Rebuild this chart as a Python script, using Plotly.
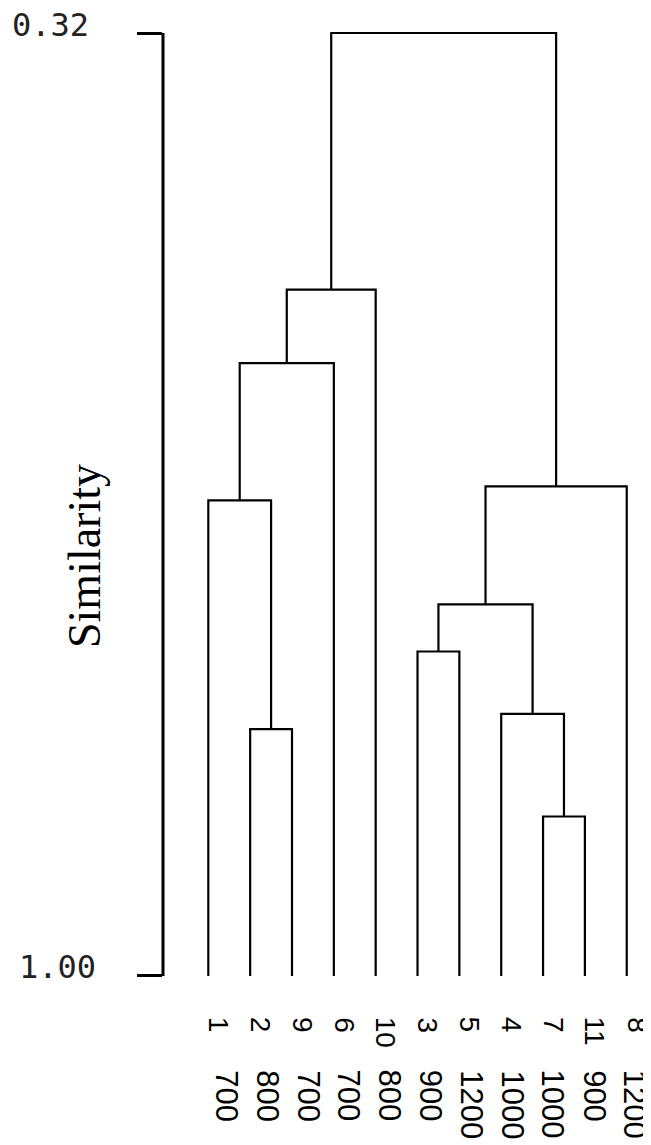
import plotly.graph_objects as go

# ---------------- data ----------------
leaf_order = [1, 2, 9, 6, 10, 3, 5, 4, 7, 11, 8]
leaf_param = [700, 800, 700, 700, 800, 900, 1200, 1000, 1000, 900, 1200]
leaf_sim = 1.00

merge_left = ["2", "1", "m1", "m2", "7", "4", "3", "m6", "m7", "m3"]
merge_right = ["9", "m0", "6", "10", "11", "m4", "5", "m5", "8", "m8"]
merge_sim = [0.822, 0.657, 0.558, 0.505, 0.885, 0.811, 0.766, 0.732, 0.647, 0.32]

y_ticks = [0.32, 1.00]
y_tick_text = ["0.32", "1.00"]
y_title = "Similarity"

# ---------------- build dendrogram links ----------------
pos = {str(l): (i, leaf_sim) for i, l in enumerate(leaf_order)}
xs, ys = [], []
for k, (a, b, h) in enumerate(zip(merge_left, merge_right, merge_sim)):
    xa, ha = pos[a]
    xb, hb = pos[b]
    xs += [xa, xa, xb, xb, None]
    ys += [ha, h, h, hb, None]
    pos[f"m{k}"] = ((xa + xb) / 2, h)

fig = go.Figure()
fig.add_trace(go.Scatter(x=xs, y=ys, mode="lines",
                         line=dict(color="black", width=2.2),
                         hoverinfo="skip", showlegend=False))

OFF = 8  # default page body margin
W, H = 651 - OFF, 1145 - OFF
ml, mr, mt, mb = 163 - OFF, 0, 29 - OFF, 165
PW = W - ml - mr
PH = H - mt - mb
pad = 0.0029

mono = dict(family="DejaVu Sans Mono", size=32, color="#222")
annotations = []
# y tick labels
annotations.append(dict(text=y_tick_text[0], xref="paper", yref="y",
                        x=(10 - 163) / PW, y=y_ticks[0], xanchor="left",
                        yanchor="middle", yshift=8, showarrow=False, font=mono))
annotations.append(dict(text=y_tick_text[1], xref="paper", yref="y",
                        x=(17 - 163) / PW, y=y_ticks[1], xanchor="left",
                        yanchor="middle", yshift=9, showarrow=False, font=mono))
# axis title
annotations.append(dict(text=y_title, xref="paper", yref="paper",
                        x=(84 - 163) / PW, y=1 - (556 - 29) / PH,
                        xanchor="center", yanchor="middle", textangle=-90,
                        showarrow=False,
                        font=dict(family="Liberation Serif", size=46, color="black")))
# leaf labels
for i, (lid, par) in enumerate(zip(leaf_order, leaf_param)):
    annotations.append(dict(text=str(lid), x=i, y=leaf_sim, xref="x", yref="y",
                            textangle=90, xanchor="center", yanchor="top",
                            xshift=10, yshift=-39, showarrow=False,
                            font=dict(family="Liberation Sans", size=28, color="black")))
    annotations.append(dict(text=str(par), x=i, y=leaf_sim, xref="x", yref="y",
                            textangle=90, xanchor="center", yanchor="top",
                            xshift=17.5 - 0.95 * i, yshift=-92, showarrow=False,
                            font=dict(family="Liberation Sans", size=31, color="black")))

fig.update_layout(
    width=W, height=H,
    margin=dict(l=ml, r=mr, t=mt, b=mb, autoexpand=False),
    paper_bgcolor="white", plot_bgcolor="white",
    xaxis=dict(visible=False, range=[-1.083, 10.58]),
    yaxis=dict(range=[1.00 + pad, 0.32 - pad], tickvals=y_ticks,
               showticklabels=False, ticks="outside", ticklen=25,
               tickwidth=3, tickcolor="black", showgrid=False,
               zeroline=False, showline=False, automargin=False),
    shapes=[dict(type="line", xref="paper", yref="y", x0=0, x1=0,
                 y0=y_ticks[0], y1=y_ticks[1],
                 line=dict(color="black", width=3))],
    annotations=annotations,
)

fig.write_html("out.html")
